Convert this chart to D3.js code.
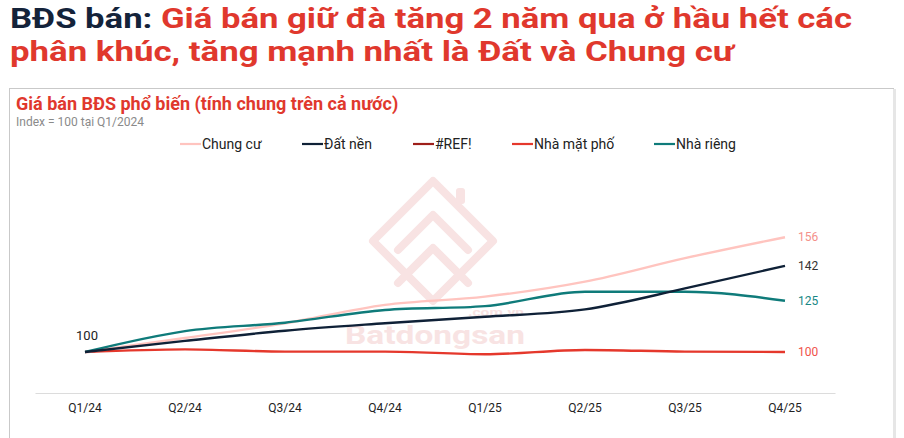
<!DOCTYPE html>
<html><head><meta charset="utf-8">
<script src="https://cdn.jsdelivr.net/npm/d3@7"></script>
<style>
html,body{margin:0;padding:0;background:#fff;}
svg{display:block;}
</style></head>
<body><svg id="c" width="904" height="438"></svg>
<script>
const quarters = ["Q1/24","Q2/24","Q3/24","Q4/24","Q1/25","Q2/25","Q3/25","Q4/25"];
const seriesNames = ["Chung cư","Đất nền","#REF!","Nhà mặt phố","Nhà riêng"];
const chungCu   = [100,106.8,114,123,127,134.3,145.8,156];
const datNen    = [100,105.4,110.4,114,117.2,120.8,131,142];
const refSeries = [];
const nhaMatPho = [100,101.3,100.2,100.2,98.9,101,100.2,100];
const nhaRieng  = [100,110.2,114.3,120.5,122.4,129.4,129.4,125];
const yDomain = [80,170];

const colors = {"Chung cư":"#ffc4bf","Đất nền":"#0f2137","#REF!":"#9e1f1a","Nhà mặt phố":"#e5382c","Nhà riêng":"#0f7b7a"};
const labelColors = {"Chung cư":"#f4908a","Đất nền":"#333333","Nhà mặt phố":"#f0524a","Nhà riêng":"#178785"};
const data = {"Chung cư":chungCu,"Đất nền":datNen,"#REF!":refSeries,"Nhà mặt phố":nhaMatPho,"Nhà riêng":nhaRieng};

const svg = d3.select("#c");
const font = "Roboto, 'Noto Sans', sans-serif";

// Headline
const h1 = svg.append("text").attr("x",10).attr("y",28).attr("font-family",font).attr("font-weight",700)
  .attr("font-size",27).attr("textLength",842).attr("lengthAdjust","spacingAndGlyphs");
h1.append("tspan").attr("fill","#14233a").text("BĐS bán: ");
h1.append("tspan").attr("fill","#e0382d").text("Giá bán giữ đà tăng 2 năm qua ở hầu hết các");
svg.append("text").attr("x",10).attr("y",61).attr("font-family",font).attr("font-weight",700)
  .attr("font-size",27).attr("fill","#e0382d").attr("textLength",724).attr("lengthAdjust","spacingAndGlyphs")
  .text("phân khúc, tăng mạnh nhất là Đất và Chung cư");

// Panel
svg.append("rect").attr("x",9.5).attr("y",88.5).attr("width",884).attr("height",360)
  .attr("fill","#fff").attr("stroke","#c9c9c9").attr("stroke-width",1);
svg.append("rect").attr("x",893).attr("y",89).attr("width",3).attr("height",349).attr("fill","#e6e6e6");

svg.append("text").attr("x",16).attr("y",110).attr("font-family",font).attr("font-weight",700)
  .attr("font-size",18).attr("fill","#e0382d").text("Giá bán BĐS phổ biến (tính chung trên cả nước)");
svg.append("text").attr("x",16).attr("y",126).attr("font-family",font)
  .attr("font-size",12).attr("fill","#8a8a8a").text("Index = 100 tại Q1/2024");

// Watermark
const wm = svg.append("g");
const wc = "#f8e3e3";
const wmStroke = (d)=>wm.append("path").attr("d",d).attr("fill","none").attr("stroke",wc)
  .attr("stroke-width",8).attr("stroke-linejoin","round").attr("stroke-linecap","round");
wmStroke("M433,181 L493,241 L433,301 L373,241 Z");
wmStroke("M398,250 L433,215 L468,250");
wmStroke("M398,283 L433,248 L468,283");
wm.append("rect").attr("x",456).attr("y",188).attr("width",9).attr("height",16).attr("rx",3).attr("fill",wc);
wm.append("text").attr("x",345).attr("y",344).attr("font-family",font).attr("font-weight",700)
  .attr("font-size",26).attr("fill",wc).attr("textLength",180).attr("lengthAdjust","spacingAndGlyphs").text("Batdongsan");
wm.append("text").attr("x",468).attr("y",316).attr("font-family",font).attr("font-weight",700)
  .attr("font-size",10).attr("fill",wc).attr("textLength",56).attr("lengthAdjust","spacingAndGlyphs").text(".com.vn");

// Scales
const x = d3.scaleBand().domain(quarters).range([35,835]).padding(0);
const xc = d => x(d) + x.bandwidth()/2;
const y = d3.scaleLinear().domain(yDomain).range([393,208.5]);

// Axis
const ax = svg.append("g").attr("transform","translate(0,393)")
  .call(d3.axisBottom(x).tickSize(0).tickPadding(10));
ax.select(".domain").attr("stroke","#dcdcdc").attr("stroke-width",1.2);
ax.selectAll("text").attr("font-family",font).attr("font-size",12).attr("fill","#222");

// Lines
const line = d3.line().x((d,i)=>xc(quarters[i])).y(d=>y(d)).curve(d3.curveMonotoneX);
const drawOrder = ["Nhà mặt phố","Chung cư","Nhà riêng","Đất nền"];
drawOrder.forEach(n=>{
  svg.append("path").datum(data[n]).attr("d",line).attr("fill","none")
    .attr("stroke",colors[n]).attr("stroke-width",2.4).attr("stroke-linejoin","round");
});

// End labels
["Chung cư","Đất nền","Nhà riêng","Nhà mặt phố"].forEach(n=>{
  const v = data[n][data[n].length-1];
  svg.append("text").attr("x",xc(quarters[quarters.length-1])+13).attr("y",y(v)+4)
    .attr("font-family",font).attr("font-size",12).attr("fill",labelColors[n]).text(d3.format("d")(v));
});
svg.append("text").attr("x",xc(quarters[0])+2).attr("y",y(chungCu[0])-12).attr("text-anchor","middle")
  .attr("font-family",font).attr("font-size",13).attr("fill","#222").text(d3.format("d")(chungCu[0]));

// Legend
const legX = [180,302,413,512,654];
seriesNames.forEach((n,i)=>{
  const g = svg.append("g").attr("transform",`translate(${legX[i]},144)`);
  g.append("line").attr("x1",0).attr("x2",21).attr("y1",0).attr("y2",0)
    .attr("stroke",colors[n]).attr("stroke-width",2.2);
  g.append("text").attr("x",22).attr("y",5).attr("font-family",font).attr("font-size",14)
    .attr("fill","#222").text(n);
});
</script></body></html>
